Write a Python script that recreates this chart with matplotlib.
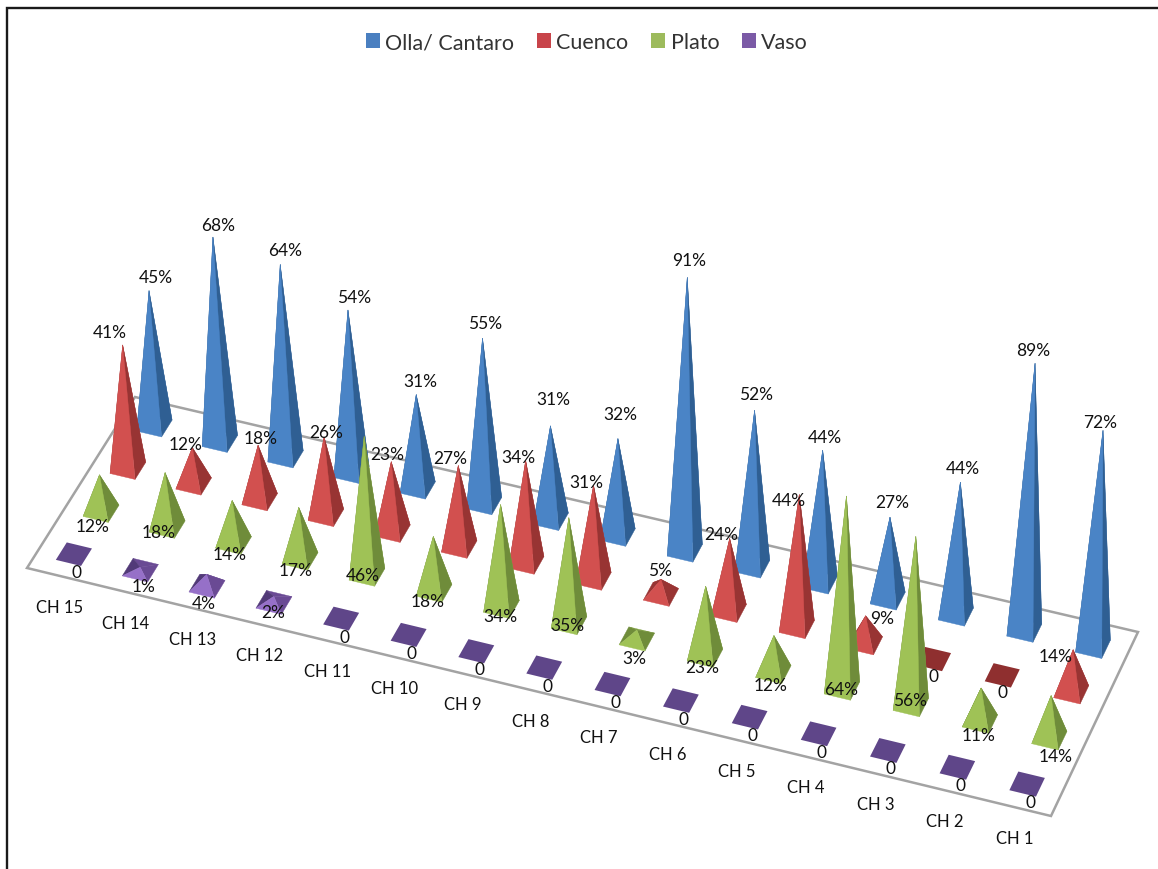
import numpy as np
import matplotlib
matplotlib.use("Agg")
import matplotlib.pyplot as plt
from matplotlib.patches import Patch, Polygon

plt.rcParams['font.family'] = ['Lato', 'DejaVu Sans']

categories = ['CH 15', 'CH 14', 'CH 13', 'CH 12', 'CH 11', 'CH 10', 'CH 9', 'CH 8',
              'CH 7', 'CH 6', 'CH 5', 'CH 4', 'CH 3', 'CH 2', 'CH 1']
olla = [45, 68, 64, 54, 31, 55, 31, 32, 91, 52, 44, 27, 44, 89, 72]
cuenco = [41, 12, 18, 26, 23, 27, 34, 31, 5, 24, 44, 9, 0, 0, 14]
plato = [12, 18, 14, 17, 46, 18, 34, 35, 3, 23, 12, 64, 56, 11, 14]
vaso = [0, 1, 4, 2, 0, 0, 0, 0, 0, 0, 0, 0, 0, 0, 0]
series_names = ['Olla/ Cantaro', 'Cuenco', 'Plato', 'Vaso']
series_values = [olla, cuenco, plato, vaso]

# face colours: front, right, back-right, back-left, flat base, legend
styles = [
    dict(front='#4a84c6', right='#2f5f93', bl='#2f5f93', br='#3a6ea8', flat='#3a6ea8', key='#4a7fc0'),
    dict(front='#d2504f', right='#983433', bl='#983433', br='#b54343', flat='#8f2f2f', key='#c8444a'),
    dict(front='#9fc256', right='#6f8c3a', bl='#6f8c3a', br='#86a647', flat='#6f8c3a', key='#9dbb5c'),
    dict(front='#9670c8', right='#6a4a94', bl='#523a78', br='#6a4a94', flat='#5f4689', key='#7b5aa6'),
]

# Label offsets in pixels from the tip (rows 0, 1) or base centre (rows 2, 3)
label_nudge = [
    [(7, -15), (5, -13), (5, -15), (6, -14), (4, -15), (3, -16), (3, -28), (2, -26),
     (2, -18), (1, -17), (2, -14), (2, -16), (2, -15), (-2, -14), (-3, -9)],
    [(-13, -14), (-7, -5), (3, -8), (2, -6), (-4, -9), (-8, -9), (-7, -4), (-7, -4),
     (-1, -10), (-8, -5), (-10, 4), (16, 1), (0, 16), (0, 16), (-18, 5)],
    [(-9, 14), (-9, 4), (-4, 11), (-5, 11), (-4, 0), (-6, 10), (-1, 8), (-2, 1),
     (-3, 18), (-3, 11), (-3, 12), (-1, 0), (-1, -5), (-1, 13), (6, 17)],
    [(3, 17), (3, 15), (-3, 16), (-1, 9)] + [(3, 17)] * 11,
]

W, H = 1158, 870
FLOOR = np.array([[27, 569], [1051, 817], [1138, 633], [135, 398]], float)
PX_PER_PCT = 3.0
LEAN_PER_PCT = 0.000277
LEAN_CENTRE = 588
CELL_U, CELL_V = 0.38, 0.40


def homography(dst):
    src = [(0, 0), (1, 0), (1, 1), (0, 1)]
    A, b = [], []
    for (s, v), (x, y) in zip(src, dst):
        A.append([s, v, 1, 0, 0, 0, -s * x, -v * x]); b.append(x)
        A.append([0, 0, 0, s, v, 1, -s * y, -v * y]); b.append(y)
    h = np.linalg.solve(np.array(A, float), np.array(b, float))
    return np.append(h, 1).reshape(3, 3)


HOM = homography(FLOOR)


def floor_xy(u, v):
    s = u / len(categories)
    s = s - 0.012 * s * (s - 1)
    p = HOM @ np.array([s, v / 4, 1.0])
    return p[:2] / p[2]


def base_corners(i, j):
    v0 = 3 - j
    u1, u2 = i + 0.5 - CELL_U / 2, i + 0.5 + CELL_U / 2
    v1, v2 = v0 + 0.5 - CELL_V / 2, v0 + 0.5 + CELL_V / 2
    return [floor_xy(u1, v1), floor_xy(u2, v1), floor_xy(u2, v2), floor_xy(u1, v2)]


fig = plt.figure(figsize=(W / 100, H / 100), dpi=100)
ax = fig.add_axes([0, 0, 1, 1])
ax.set_xlim(0, W)
ax.set_ylim(H, 0)
ax.axis('off')

# picture frame
ax.plot([6.5, 6.5, W], [H, 9, 9], color='#1a1a1a', lw=1.7, zorder=1, solid_joinstyle='miter')

# floor
ax.add_patch(Polygon(FLOOR, closed=True, fc='white', ec='#a3a3a3', lw=1.8, zorder=2))

z = 3
for j, values in enumerate(series_values):
    st = styles[j]
    for i, val in enumerate(values):
        fl, fr, br, bl = base_corners(i, j)
        centre = floor_xy(i + 0.5, 3 - j + 0.5)
        if val == 0:
            ax.add_patch(Polygon([fl, fr, br, bl], closed=True, fc=st['flat'], ec='none', zorder=z))
            continue
        tip = centre + np.array([(centre[0] - LEAN_CENTRE) * LEAN_PER_PCT * val, -PX_PER_PCT * val])
        for pts, c in [([bl, br, tip], st['br']), ([fl, bl, tip], st['bl']),
                       ([fr, br, tip], st['right']), ([fl, fr, tip], st['front'])]:
            ax.add_patch(Polygon(pts, closed=True, fc=c, ec=c, lw=0.3, zorder=z))
    z += 1

# value labels
for j, values in enumerate(series_values):
    for i, val in enumerate(values):
        centre = floor_xy(i + 0.5, 3 - j + 0.5)
        tip = centre + np.array([(centre[0] - LEAN_CENTRE) * LEAN_PER_PCT * val, -PX_PER_PCT * val])
        anchor = tip if j < 2 else centre
        dx, dy = label_nudge[j][i]
        ax.text(anchor[0] + dx, anchor[1] + dy + 1, f'{val}%' if val else '0', ha='center', va='center',
                fontsize=12.5, color='#111111', zorder=20)

# category labels
for i, name in enumerate(categories):
    p = floor_xy(i + 0.5, 0)
    ax.text(p[0] - 1, p[1] + 30.5, name, ha='center', va='center', fontsize=12, color='#111111', zorder=20)

handles = [Patch(fc=s['key'], ec='none', label=n) for s, n in zip(styles, series_names)]
ax.legend(handles=handles, ncols=4, loc='center', bbox_to_anchor=(587 / W, 1 - 43 / H),
          bbox_transform=fig.transFigure, frameon=False, fontsize=15.5, handlelength=0.65,
          handleheight=0.65, handletextpad=0.25, columnspacing=1.05, labelcolor='#333333')

fig.savefig('out.png', dpi=100, facecolor='white')
